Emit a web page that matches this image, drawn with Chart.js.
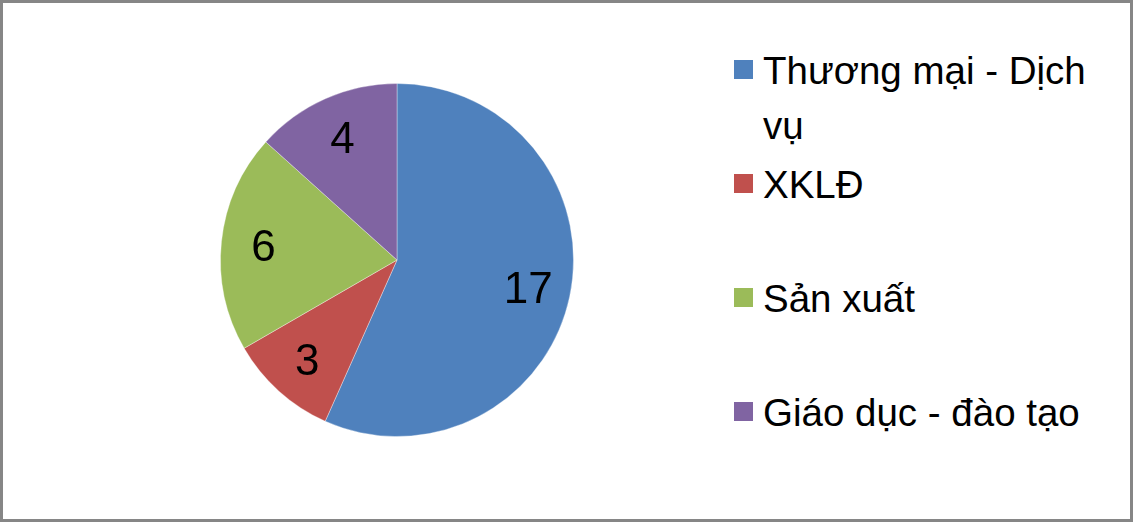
<!DOCTYPE html>
<html>
<head>
<meta charset="utf-8">
<script src="https://cdn.jsdelivr.net/npm/chart.js@4"></script>
<style>
  html, body { margin: 0; padding: 0; background: #fff; }
  body { width: 1133px; height: 522px; position: relative; overflow: hidden;
         font-family: "Liberation Sans", Arial, sans-serif; }
  #frame { position: absolute; left: 0; top: 0; width: 1133px; height: 522px;
           box-sizing: border-box; border: 3px solid #868686; }
  #pieBox { position: absolute; left: 197px; top: 60px; width: 400px; height: 400px; }
  #legend { position: absolute; left: 734px; top: 43px; }
  .item { display: flex; align-items: flex-start; height: 114px; }
  .box { width: 19px; height: 19px; margin-top: 17px; margin-right: 10px; flex: none; }
  .txt { font-size: 38.5px; line-height: 55px; color: #000; width: 345px; }
</style>
</head>
<body>
<div id="frame"></div>
<div id="pieBox"><canvas id="pie"></canvas></div>
<div id="legend"></div>
<script>
const categories = ['Thương mại - Dịch vụ', 'XKLĐ', 'Sản xuất', 'Giáo dục - đào tạo'];
const values = [17, 3, 6, 4];
const colors = ['#4F81BD', '#C0504D', '#9BBB59', '#8064A2'];

// value labels inside the slices
const sliceLabels = {
  id: 'sliceLabels',
  afterDatasetsDraw(chart) {
    const ctx = chart.ctx;
    const meta = chart.getDatasetMeta(0);
    ctx.save();
    ctx.font = '44px "Liberation Sans", Arial, sans-serif';
    ctx.fillStyle = '#000';
    ctx.textAlign = 'center';
    ctx.textBaseline = 'middle';
    meta.data.forEach((arc, i) => {
      const p = arc.getProps(['x', 'y', 'startAngle', 'endAngle', 'outerRadius'], true);
      const mid = (p.startAngle + p.endAngle) / 2;
      const r = p.outerRadius * 0.76;
      ctx.fillText(String(values[i]), p.x + Math.cos(mid) * r, p.y + Math.sin(mid) * r + 3);
    });
    ctx.restore();
  }
};

new Chart(document.getElementById('pie').getContext('2d'), {
  type: 'pie',
  data: {
    labels: categories,
    datasets: [{
      data: values,
      backgroundColor: colors,
      borderColor: 'rgba(255,255,255,0.35)',
      borderWidth: 1
    }]
  },
  options: {
    responsive: true,
    maintainAspectRatio: false,
    animation: false,
    layout: { padding: 23 },
    plugins: {
      legend: { display: false },
      tooltip: { enabled: false }
    }
  },
  plugins: [sliceLabels]
});

const legend = document.getElementById('legend');
categories.forEach((c, i) => {
  const item = document.createElement('div');
  item.className = 'item';
  const box = document.createElement('div');
  box.className = 'box';
  box.style.background = colors[i];
  const txt = document.createElement('div');
  txt.className = 'txt';
  txt.textContent = c;
  item.appendChild(box);
  item.appendChild(txt);
  legend.appendChild(item);
});
</script>
</body>
</html>
